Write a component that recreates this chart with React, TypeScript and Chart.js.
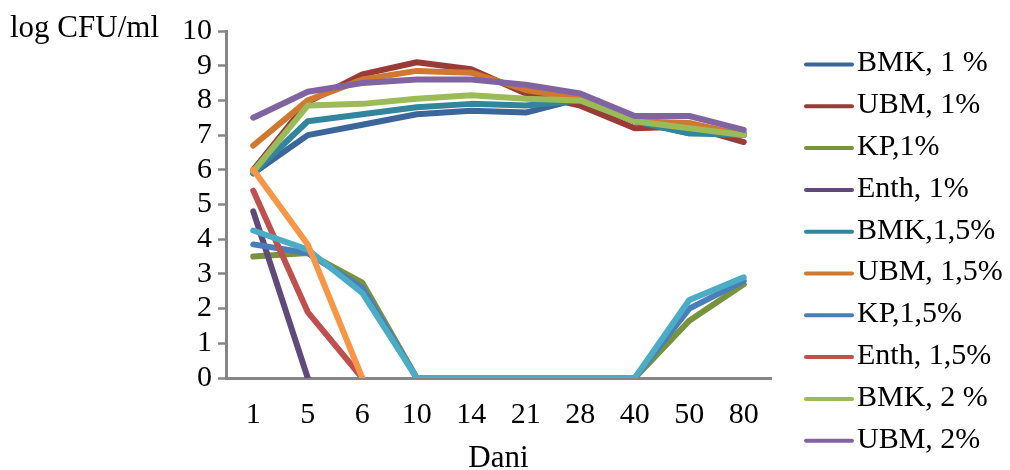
import React, { useEffect, useRef } from "react";
import { Chart, registerables } from "chart.js";

Chart.register(...registerables);

const days = ["1", "5", "6", "10", "14", "21", "28", "40", "50", "80"];
const yTitle = "log CFU/ml";
const xTitle = "Dani";

const seriesNames = [
  "BMK, 1 %",
  "UBM, 1%",
  "KP,1%",
  "Enth, 1%",
  "BMK,1,5%",
  "UBM, 1,5%",
  "KP,1,5%",
  "Enth, 1,5%",
  "BMK, 2 %",
  "UBM, 2%",
  "KP, 2%",
  "Enth, 2%",
];
const legendCount = 10;

const bmk1 = [5.9, 7.0, 7.3, 7.6, 7.7, 7.65, 8.05, 7.4, 7.05, 7.05];
const ubm1 = [6.0, 7.95, 8.75, 9.1, 8.9, 8.2, 7.85, 7.2, 7.25, 6.8];
const kp1 = [3.5, 3.6, 2.75, 0, 0, 0, 0, 0, 1.65, 2.7];
const enth1 = [4.8, 0, null, null, null, null, null, null, null, null];
const bmk15 = [5.9, 7.4, 7.6, 7.8, 7.9, 7.85, 8.0, 7.4, 7.05, 7.0];
const ubm15 = [6.7, 8.0, 8.6, 8.85, 8.8, 8.3, 8.05, 7.4, 7.35, 7.0];
const kp15 = [3.85, 3.6, 2.6, 0, 0, 0, 0, 0, 2.0, 2.8];
const enth15 = [5.4, 1.9, 0, null, null, null, null, null, null, null];
const bmk2 = [5.95, 7.85, 7.9, 8.05, 8.15, 8.05, 8.0, 7.4, 7.2, 7.0];
const ubm2 = [7.5, 8.25, 8.5, 8.6, 8.6, 8.45, 8.2, 7.55, 7.55, 7.15];
const kp2 = [4.25, 3.7, 2.45, 0, 0, 0, 0, 0, 2.25, 2.9];
const enth2 = [6.0, 3.85, 0, null, null, null, null, null, null, null];

const seriesData = [bmk1, ubm1, kp1, enth1, bmk15, ubm15, kp15, enth15, bmk2, ubm2, kp2, enth2];

const colors = [
  "#3A6699",
  "#9A3B38",
  "#77933C",
  "#604A7B",
  "#31859C",
  "#D0782F",
  "#4A7EBB",
  "#C0504D",
  "#9BBB59",
  "#8064A2",
  "#4BACC6",
  "#F79646",
];

const FONT = "'Liberation Serif', 'Times New Roman', serif";

const overlayPlugin = {
  id: "overlay",
  afterDraw(chart: any) {
    const ctx = chart.ctx;
    ctx.save();
    ctx.font = `31px ${FONT}`;
    ctx.fillStyle = "#000";
    ctx.textBaseline = "middle";
    ctx.textAlign = "left";
    ctx.fillText(yTitle, 10, 29);
    ctx.textAlign = "center";
    ctx.fillText(xTitle, (chart.chartArea.left + chart.chartArea.right) / 2, 459);
    ctx.font = `30px ${FONT}`;
    ctx.textAlign = "left";
    for (let i = 0; i < legendCount; i++) {
      const y = 63.5 + i * 41.8;
      ctx.strokeStyle = colors[i];
      ctx.lineWidth = 4;
      ctx.lineCap = "round";
      ctx.beginPath();
      ctx.moveTo(806, y + 1);
      ctx.lineTo(852, y + 1);
      ctx.stroke();
      ctx.fillStyle = "#000";
      ctx.fillText(seriesNames[i], 857, y);
    }
    ctx.restore();
  },
};

export default function App() {
  const ref = useRef<HTMLCanvasElement>(null);
  useEffect(() => {
    document.body.style.margin = "0";
    const canvas = ref.current!;
    const chart = new Chart(canvas, {
      type: "line",
      data: {
        labels: days,
        datasets: seriesData.map((d, i) => ({
          label: seriesNames[i],
          data: d,
          borderColor: colors[i],
          backgroundColor: colors[i],
          borderWidth: 6,
          borderCapStyle: "round",
          borderJoinStyle: "round",
          pointRadius: 0,
          pointHoverRadius: 0,
          tension: 0,
          spanGaps: false,
          order: seriesData.length - i,
        })),
      },
      options: {
        responsive: false,
        animation: false,
        events: [],
        layout: { padding: { left: 0, top: 31, right: 239, bottom: 0 } },
        plugins: {
          legend: { display: false },
          tooltip: { enabled: false },
          title: { display: false },
        },
        scales: {
          x: {
            offset: true,
            grid: { display: false, drawTicks: false },
            border: { display: true, color: "#868686", width: 3 },
            ticks: {
              color: "#000",
              font: { family: FONT, size: 30 },
              padding: 19,
              maxRotation: 0,
              autoSkip: false,
            },
            afterFit: (s: any) => {
              s.height = 92;
            },
          },
          y: {
            min: 0,
            max: 10,
            grid: {
              drawOnChartArea: false,
              drawTicks: true,
              tickLength: 8,
              tickColor: "#868686",
              tickWidth: 2.5,
            },
            border: { display: true, color: "#868686", width: 3 },
            ticks: {
              stepSize: 1,
              autoSkip: false,
              color: "#000",
              font: { family: FONT, size: 30 },
              padding: 6,
            },
            afterFit: (s: any) => {
              s.width = 226;
            },
          },
        },
      },
      plugins: [overlayPlugin],
    });
    return () => chart.destroy();
  }, []);
  return (
    <canvas
      ref={ref}
      width={1010}
      height={470}
      style={{ display: "block", width: 1010, height: 470 }}
    />
  );
}
